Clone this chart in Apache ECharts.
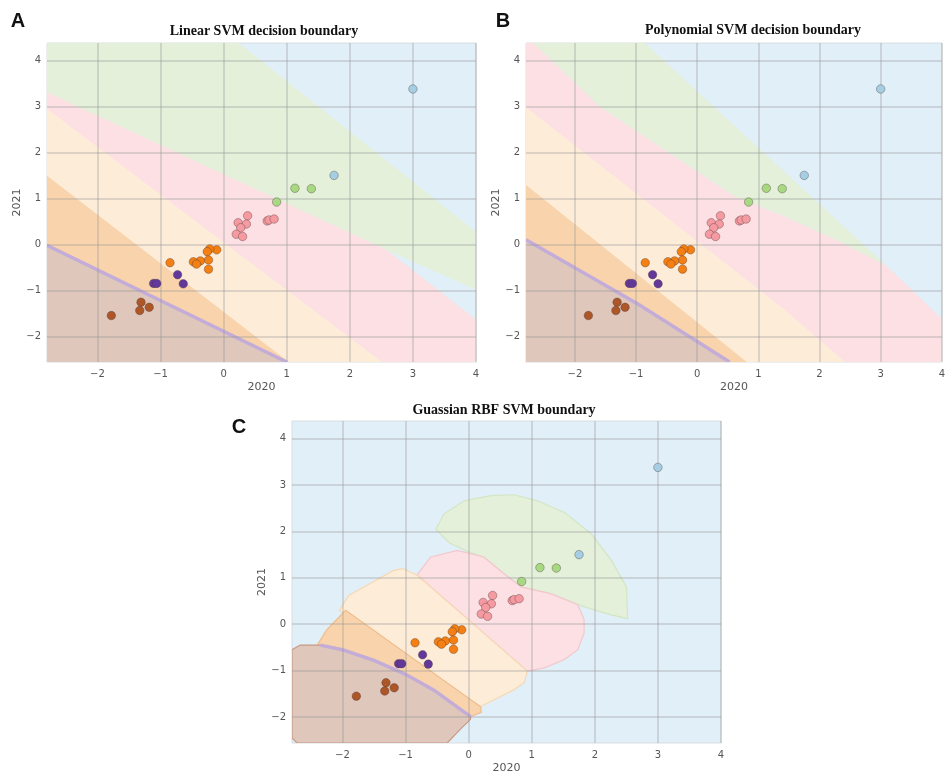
<!DOCTYPE html>
<html>
<head>
<meta charset="utf-8">
<script src="https://cdn.jsdelivr.net/npm/echarts@6/dist/echarts.min.js"></script>
<style>
    html, body {margin: 0; padding: 0; background: #fff;}
    #container {width: 948px; height: 775px;}
</style>
</head>
<body>
<div id="container"></div>
<script>
//样本点 (2020, 2021)
let bluePts = [[3.0, 3.38], [1.75, 1.5]];
let greenPts = [[1.13, 1.22], [1.39, 1.21], [0.84, 0.92]];
let pinkPts = [[0.38, 0.62], [0.23, 0.47], [0.36, 0.44], [0.27, 0.36], [0.2, 0.22], [0.3, 0.17], [0.69, 0.51], [0.72, 0.53], [0.8, 0.55]];
let orangePts = [[-0.11, -0.12], [-0.22, -0.1], [-0.26, -0.16], [-0.24, -0.34], [-0.24, -0.54], [-0.37, -0.36], [-0.48, -0.38], [-0.43, -0.43], [-0.85, -0.4]];
let purplePts = [[-0.73, -0.66], [-0.64, -0.86], [-1.11, -0.85], [-1.06, -0.85]];
let brownPts = [[-1.31, -1.26], [-1.33, -1.44], [-1.18, -1.37], [-1.78, -1.55]];

let xTicks = [-2, -1, 0, 1, 2, 3, 4];
let yTicks = [-2, -1, 0, 1, 2, 3, 4];
let xRange = [-2.8, 4];
let yRange = [-2.56, 4.38];

//决策区域 线性
let linGreen = [[-2.8, 4.38], [0.24, 4.38], [4, 0.27], [4, -0.99], [2.58, -0.12], [4, -1.64], [4, -2.56], [-2.8, -2.56]];
let linPink = [[-2.8, 3.31], [2.58, -0.12], [4, -1.64], [4, -2.56], [-2.8, -2.56]];
let linPeach = [[-2.8, 2.95], [2.51, -2.56], [-2.8, -2.56]];
let linOrange = [[-2.8, 1.49], [1.03, -2.56], [-2.8, -2.56]];
let linBrown = [[-2.8, -0.02], [1.0, -2.56], [-2.8, -2.56]];
let linPurple = [[-2.8, -0.02], [1.0, -2.56]];

//决策区域 多项式
let polyGreen = [[-2.68, 4.38], [-0.86, 4.38], [3.1, -0.47], [2.3, 0.08], [1.4, 0.62], [0.6, 1.05], [-1.6, 3.0]];
let polyPink = [[-2.8, 4.38], [-2.68, 4.38], [-1.6, 3.0], [0.6, 1.05], [1.4, 0.62], [2.3, 0.08], [3.1, -0.47], [4, -1.62], [4, -2.56], [-2.8, -2.56]];
let polyPeach = [[-2.8, 2.98], [1.38, -1.37], [2.42, -2.56], [-2.8, -2.56]];
let polyOrange = [[-2.8, 1.29], [0.81, -2.56], [-2.8, -2.56]];
let polyBrown = [[-2.8, 0.1], [-0.97, -1.3], [0.53, -2.56], [-2.8, -2.56]];
let polyPurple = [[-2.8, 0.1], [-0.97, -1.3], [0.53, -2.56]];

//决策区域 RBF
let rbfGreen = [[-0.52, 2.05], [-0.39, 2.38], [-0.07, 2.66], [0.35, 2.77], [0.72, 2.79], [1.09, 2.66], [1.52, 2.41], [1.94, 1.95], [2.26, 1.38], [2.5, 0.81], [2.52, 0.12], [2.26, 0.2], [1.99, 0.31], [1.78, 0.4], [1.3, 0.66], [0.84, 0.8], [0.55, 1.1], [0.24, 1.45], [0.0, 1.56], [-0.3, 1.75]];
let rbfPink = [[-0.82, 1.06], [-0.6, 1.45], [-0.18, 1.59], [0.24, 1.45], [0.55, 1.1], [0.84, 0.8], [1.3, 0.66], [1.73, 0.42], [1.83, 0.1], [1.83, -0.19], [1.73, -0.55], [1.52, -0.76], [1.2, -0.94], [0.93, -1.01]];
let rbfPeach = [[-2.05, 0.3], [-1.9, 0.62], [-1.61, 0.84], [-1.19, 1.16], [-1.05, 1.2], [-0.82, 1.06], [0.93, -1.01], [0.88, -1.26], [0.72, -1.41], [0.46, -1.59], [0.25, -1.73], [0.19, -1.78]];
let rbfOrange = [[-2.4, -0.45], [-2.25, -0.12], [-1.95, 0.3], [0.19, -1.78], [0.2, -1.9], [0.03, -1.99], [-0.55, -1.42], [-1.0, -1.08], [-1.5, -0.78], [-2.0, -0.55]];
let rbfBrown = [[-2.8, -0.55], [-2.67, -0.45], [-2.35, -0.45], [-2.0, -0.55], [-1.5, -0.78], [-1.0, -1.08], [-0.55, -1.42], [0.03, -1.99], [0.03, -2.05], [-0.13, -2.26], [-0.34, -2.56], [-2.72, -2.56], [-2.8, -2.45]];
let rbfPurple = [[-2.35, -0.45], [-2.0, -0.55], [-1.5, -0.78], [-1.0, -1.08], [-0.55, -1.42], [0.03, -1.99]];

let fills = {
    blue: '#e1eff8',
    green: '#e4f0da',
    pink: '#fce0e4',
    peach: '#fdedd8',
    orange: '#f9d3ac',
    brown: '#dfc7bb',
    purple: '#c3add8'
};

let panels = [
    {
        title: 'Linear SVM decision boundary', letter: 'A', titleX: 264, titleY: 31, letterX: 18, letterY: 21,
        grid: {left: 47, top: 43, width: 429, height: 319},
        regions: [[linGreen, 'green'], [linPink, 'pink'], [linPeach, 'peach'], [linOrange, 'orange'], [linBrown, 'brown']],
        purple: linPurple, outline: false
    },
    {
        title: 'Polynomial SVM decision boundary', letter: 'B', titleX: 753, titleY: 30, letterX: 503, letterY: 21,
        grid: {left: 526, top: 43, width: 429, height: 319},
        regions: [[polyGreen, 'green'], [polyPink, 'pink'], [polyPeach, 'peach'], [polyOrange, 'orange'], [polyBrown, 'brown']],
        purple: polyPurple, outline: false
    },
    {
        title: 'Guassian RBF SVM boundary', letter: 'C', titleX: 504, titleY: 410, letterX: 239, letterY: 427,
        grid: {left: 292, top: 421, width: 429, height: 325},
        regions: [[rbfGreen, 'green'], [rbfPink, 'pink'], [rbfPeach, 'peach'], [rbfOrange, 'orange'], [rbfBrown, 'brown']],
        purple: rbfPurple, outline: true
    }
];

let classes = [
    {pts: bluePts, color: '#a6cee3'},
    {pts: greenPts, color: '#a9d883'},
    {pts: pinkPts, color: '#f59aa0'},
    {pts: orangePts, color: '#f47f12'},
    {pts: purplePts, color: '#62399a'},
    {pts: brownPts, color: '#ad5628'}
];

let outlineColors = {green: '#d3e6c4', pink: '#f3c7cd', peach: '#f6d8b4', orange: '#f0bd8c', brown: '#c99a84'};

function fmt(v) {
    return v < 0 ? '\u2212' + Math.abs(v) : String(v);
}

let dom = document.getElementById('container');
let myChart = echarts.init(dom, null, {renderer: 'canvas'});

let grids = [], xAxes = [], yAxes = [], series = [], graphics = [];

panels.forEach(function (p, k) {
    grids.push(Object.assign({
        show: true,
        backgroundColor: fills.blue,
        borderColor: '#d9dde0',
        borderWidth: 1
    }, p.grid));
    xAxes.push({
        gridIndex: k, type: 'value', min: xRange[0], max: xRange[1], z: 3,
        name: '2020', nameLocation: 'middle', nameGap: 20,
        nameTextStyle: {color: '#555', fontSize: 11, fontFamily: 'DejaVu Sans'},
        axisLine: {show: false},
        axisTick: {show: false, customValues: xTicks},
        axisLabel: {customValues: xTicks, color: '#555', fontSize: 10, margin: 7, fontFamily: 'DejaVu Sans', formatter: fmt},
        splitLine: {show: true, lineStyle: {color: 'rgba(150,150,150,0.42)', width: 1.5}}
    });
    yAxes.push({
        gridIndex: k, type: 'value', min: yRange[0], max: yRange[1], z: 3,
        name: '2021', nameLocation: 'middle', nameGap: 22, nameRotate: 90,
        nameTextStyle: {color: '#555', fontSize: 11, fontFamily: 'DejaVu Sans'},
        axisLine: {show: false},
        axisTick: {show: false, customValues: yTicks},
        axisLabel: {customValues: yTicks, color: '#555', fontSize: 10, margin: 6, fontFamily: 'DejaVu Sans', formatter: fmt},
        splitLine: {show: true, lineStyle: {color: 'rgba(150,150,150,0.42)', width: 1.5}}
    });

    //区域
    series.push({
        type: 'custom',
        xAxisIndex: k, yAxisIndex: k,
        clip: true, silent: true, z: 1,
        data: p.regions.map(function (r, i) { return [i]; }),
        renderItem: function (params, api) {
            let r = p.regions[params.dataIndex];
            let pts = r[0].map(function (d) { return api.coord(d); });
            let el = {
                type: 'polygon',
                shape: {points: pts},
                style: {
                    fill: fills[r[1]],
                    stroke: p.outline ? outlineColors[r[1]] : null,
                    lineWidth: p.outline ? 1.2 : 0
                }
            };
            if (r[1] !== 'brown') return el;
            let line = p.purple.map(function (d) { return api.coord(d); });
            return {
                type: 'group',
                children: [el, {
                    type: 'polyline',
                    shape: {points: line},
                    style: {stroke: fills.purple, lineWidth: 3.5, fill: null}
                }]
            };
        }
    });

    //样本点
    classes.forEach(function (c) {
        series.push({
            type: 'scatter',
            xAxisIndex: k, yAxisIndex: k,
            data: c.pts,
            symbolSize: 8.5,
            z: 10, silent: true,
            itemStyle: {color: c.color, opacity: 1, borderColor: 'rgba(70,50,50,0.45)', borderWidth: 0.8}
        });
    });

    graphics.push({
        type: 'text', x: p.titleX, y: p.titleY,
        style: {
            text: p.title, fill: '#111',
            font: 'bold 14px "Liberation Serif", serif',
            align: 'center', verticalAlign: 'middle',
            textAlign: 'center', textVerticalAlign: 'middle'
        }
    });
    graphics.push({
        type: 'text', x: p.letterX, y: p.letterY,
        style: {
            text: p.letter, fill: '#111',
            font: 'bold 20px "Liberation Sans", Arial, sans-serif',
            align: 'center', verticalAlign: 'middle',
            textAlign: 'center', textVerticalAlign: 'middle'
        }
    });
});

let option = {
    backgroundColor: '#fff',
    animation: false,
    grid: grids,
    xAxis: xAxes,
    yAxis: yAxes,
    series: series,
    graphic: graphics
};
if (option && typeof option === "object") {
    myChart.setOption(option, true);
}
window.onresize = function () {
    myChart.resize();
};
</script>
</body>
</html>
